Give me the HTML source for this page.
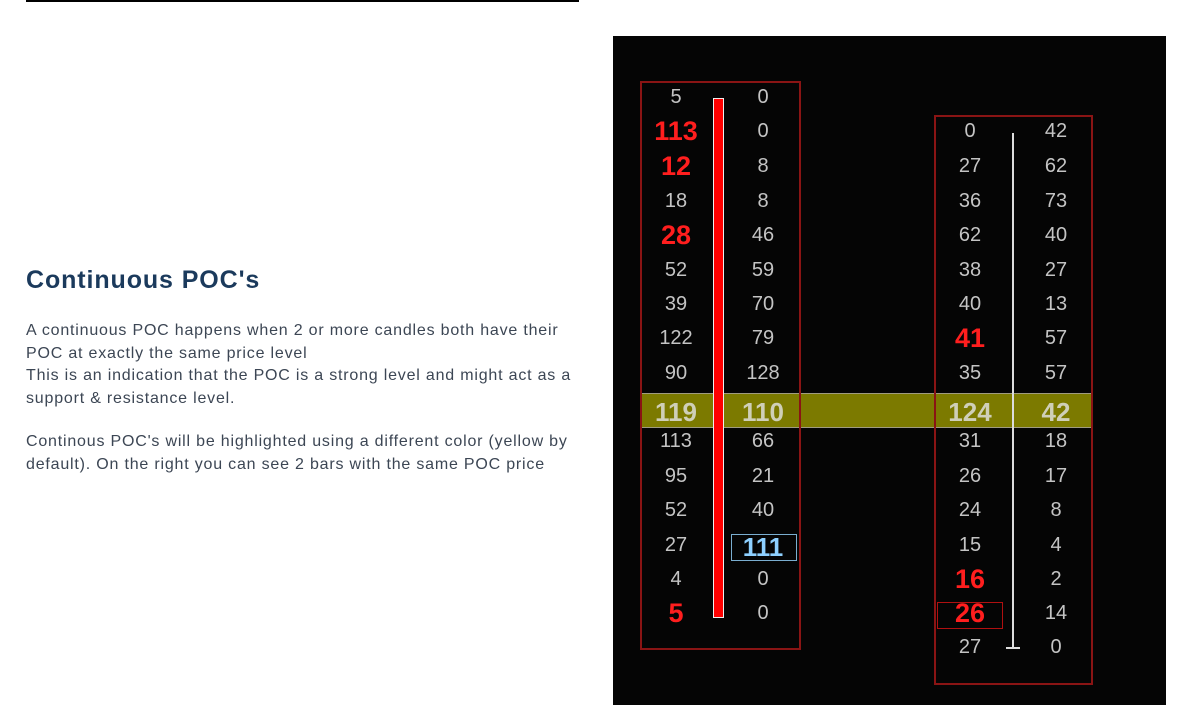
<!DOCTYPE html>
<html><head><meta charset="utf-8"><style>
body{margin:0;width:1198px;height:717px;background:#fff;position:relative;overflow:hidden;font-family:"Liberation Sans",sans-serif}
.a{position:absolute}
h2{position:absolute;left:26px;top:266px;margin:0;font-size:25px;font-weight:bold;color:#1b3a5c;letter-spacing:0.9px}
.p{position:absolute;left:26px;width:580px;font-size:16px;letter-spacing:0.8px;line-height:22.5px;color:#3c4654;white-space:nowrap}
.n{position:absolute;width:80px;text-align:center;color:#c4c4c4;font-size:20px;line-height:24px;height:24px}
.r{color:#ff1e1e;font-weight:bold;font-size:27px}
.y{color:#cfcfb8;font-weight:bold;font-size:26px}
.b{color:#8ed0ff;font-weight:bold;font-size:26px}
</style></head><body>
<div class="a" style="left:26px;top:0;width:553px;height:2px;background:#000"></div>
<h2>Continuous POC's</h2>
<div class="p" style="top:320px">A continuous POC happens when 2 or more candles both have their<br>POC at exactly the same price level<br>This is an indication that the POC is a strong level and might act as a<br>support &amp; resistance level.</div>
<div class="p" style="top:431px">Continous POC's will be highlighted using a different color (yellow by<br>default). On the right you can see 2 bars with the same POC price</div>

<div class="a" style="left:613px;top:36px;width:553px;height:669px;background:#050505"></div>
<div class="a" style="left:641px;top:393px;width:449px;height:33px;background:#7c7a00;border:1px solid #a09c80"></div>
<div class="a" style="left:640px;top:81px;width:157px;height:565px;border:2px solid #8a1414"></div>
<div class="a" style="left:934px;top:115px;width:155px;height:566px;border:2px solid #8a1414"></div>
<div class="a" style="left:713px;top:98px;width:9px;height:518px;background:#ff0000;border:1px solid #eee"></div>
<div class="a" style="left:1012px;top:133px;width:2px;height:515px;background:#ddd"></div>
<div class="a" style="left:1006px;top:647px;width:14px;height:2px;background:#ddd"></div>
<div class="a" style="left:731px;top:534px;width:64px;height:25px;border:1.5px solid #7aaed0"></div>
<div class="a" style="left:937px;top:602px;width:64px;height:25px;border:1.5px solid #b01010"></div>

<div class="n" style="left:636px;top:85px">5</div><div class="n" style="left:723px;top:85px">0</div>
<div class="n r" style="left:636px;top:119px">113</div><div class="n" style="left:723px;top:119px">0</div>
<div class="n r" style="left:636px;top:154px">12</div><div class="n" style="left:723px;top:154px">8</div>
<div class="n" style="left:636px;top:189px">18</div><div class="n" style="left:723px;top:189px">8</div>
<div class="n r" style="left:636px;top:223px">28</div><div class="n" style="left:723px;top:223px">46</div>
<div class="n" style="left:636px;top:258px">52</div><div class="n" style="left:723px;top:258px">59</div>
<div class="n" style="left:636px;top:292px">39</div><div class="n" style="left:723px;top:292px">70</div>
<div class="n" style="left:636px;top:326px">122</div><div class="n" style="left:723px;top:326px">79</div>
<div class="n" style="left:636px;top:361px">90</div><div class="n" style="left:723px;top:361px">128</div>
<div class="n y" style="left:636px;top:400px">119</div><div class="n y" style="left:723px;top:400px">110</div>
<div class="n" style="left:636px;top:429px">113</div><div class="n" style="left:723px;top:429px">66</div>
<div class="n" style="left:636px;top:464px">95</div><div class="n" style="left:723px;top:464px">21</div>
<div class="n" style="left:636px;top:498px">52</div><div class="n" style="left:723px;top:498px">40</div>
<div class="n" style="left:636px;top:533px">27</div><div class="n b" style="left:723px;top:535px">111</div>
<div class="n" style="left:636px;top:567px">4</div><div class="n" style="left:723px;top:567px">0</div>
<div class="n r" style="left:636px;top:601px">5</div><div class="n" style="left:723px;top:601px">0</div>

<div class="n" style="left:930px;top:119px">0</div><div class="n" style="left:1016px;top:119px">42</div>
<div class="n" style="left:930px;top:154px">27</div><div class="n" style="left:1016px;top:154px">62</div>
<div class="n" style="left:930px;top:189px">36</div><div class="n" style="left:1016px;top:189px">73</div>
<div class="n" style="left:930px;top:223px">62</div><div class="n" style="left:1016px;top:223px">40</div>
<div class="n" style="left:930px;top:258px">38</div><div class="n" style="left:1016px;top:258px">27</div>
<div class="n" style="left:930px;top:292px">40</div><div class="n" style="left:1016px;top:292px">13</div>
<div class="n r" style="left:930px;top:326px">41</div><div class="n" style="left:1016px;top:326px">57</div>
<div class="n" style="left:930px;top:361px">35</div><div class="n" style="left:1016px;top:361px">57</div>
<div class="n y" style="left:930px;top:400px">124</div><div class="n y" style="left:1016px;top:400px">42</div>
<div class="n" style="left:930px;top:429px">31</div><div class="n" style="left:1016px;top:429px">18</div>
<div class="n" style="left:930px;top:464px">26</div><div class="n" style="left:1016px;top:464px">17</div>
<div class="n" style="left:930px;top:498px">24</div><div class="n" style="left:1016px;top:498px">8</div>
<div class="n" style="left:930px;top:533px">15</div><div class="n" style="left:1016px;top:533px">4</div>
<div class="n r" style="left:930px;top:567px">16</div><div class="n" style="left:1016px;top:567px">2</div>
<div class="n r" style="left:930px;top:601px">26</div><div class="n" style="left:1016px;top:601px">14</div>
<div class="n" style="left:930px;top:635px">27</div><div class="n" style="left:1016px;top:635px">0</div>
</body></html>
